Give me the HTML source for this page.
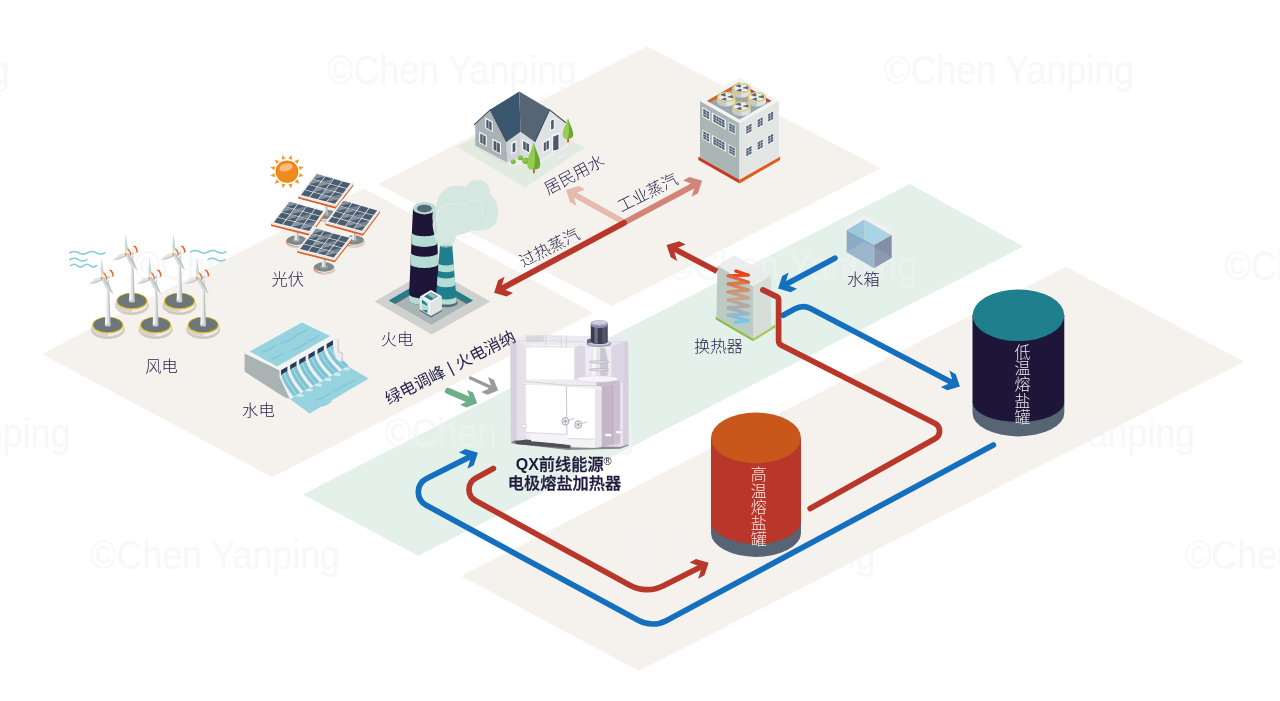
<!DOCTYPE html><html lang="zh"><head><meta charset="utf-8"><title>熔盐储能系统示意图</title><style>html,body{margin:0;padding:0;background:#fff}svg{display:block}text{font-family:'Liberation Sans','Noto Sans CJK SC',sans-serif}</style></head><body>
<svg width="1280" height="701" viewBox="0 0 1280 701">
<rect width="1280" height="701" fill="#fff"/>
<polygon points="378.1,184.2 647.2,46.2 880.8,168.3 612.1,306.0" fill="#f5f2ed" />
<polygon points="41.6,353.9 364.3,188.4 593.7,312.9 272.2,477.2" fill="#f5f2ed" />
<polygon points="302.7,494.4 909.6,184.0 1023.4,246.5 418.3,555.8" fill="#e4f1ea" />
<polygon points="461.1,576.0 1066.0,266.7 1244.1,361.7 639.0,671.0" fill="#f5f2ed" />
<g font-family="'DejaVu Sans','Liberation Sans',sans-serif" font-size="41" fill="#f3f3f3" opacity=".55">
<text x="-240.0" y="83.8" textLength="250" lengthAdjust="spacingAndGlyphs">©Chen Yanping</text>
<text x="327.0" y="83.8" textLength="250" lengthAdjust="spacingAndGlyphs">©Chen Yanping</text>
<text x="884.0" y="83.8" textLength="250" lengthAdjust="spacingAndGlyphs">©Chen Yanping</text>
<text x="134.0" y="279.6" textLength="250" lengthAdjust="spacingAndGlyphs">©Chen Yanping</text>
<text x="667.0" y="279.6" textLength="250" lengthAdjust="spacingAndGlyphs">©Chen Yanping</text>
<text x="1224.6" y="279.6" textLength="250" lengthAdjust="spacingAndGlyphs">©Chen Yanping</text>
<text x="-179.5" y="446.7" textLength="250" lengthAdjust="spacingAndGlyphs">©Chen Yanping</text>
<text x="385.0" y="446.7" textLength="250" lengthAdjust="spacingAndGlyphs">©Chen Yanping</text>
<text x="945.0" y="446.7" textLength="250" lengthAdjust="spacingAndGlyphs">©Chen Yanping</text>
<text x="90.0" y="569.0" textLength="250" lengthAdjust="spacingAndGlyphs">©Chen Yanping</text>
<text x="625.5" y="569.0" textLength="250" lengthAdjust="spacingAndGlyphs">©Chen Yanping</text>
<text x="1185.0" y="569.0" textLength="250" lengthAdjust="spacingAndGlyphs">©Chen Yanping</text>
</g>
<line x1="624.5" y1="222.5" x2="573.9" y2="194.2" stroke="#e6bbad" stroke-width="5.9" stroke-linecap="butt" />
<polygon points="566.0,189.8 578.6,186.1 585.0,189.5 576.7,192.8 573.9,197.4 576.5,205.8 570.1,202.2" fill="#e6bbad" />
<line x1="624.5" y1="222.5" x2="694.2" y2="185.1" stroke="#d28577" stroke-width="5.9" stroke-linecap="butt" />
<polygon points="702.1,180.8 689.5,177.1 683.1,180.5 691.5,183.8 694.2,188.4 691.6,196.8 698.0,193.2" fill="#d28577" />
<path d="M624.0,222.8 L502.0,288.4" stroke="#b8372a" stroke-width="5.9" stroke-linecap="round" fill="none"/>
<polygon points="494.1,292.7 506.7,296.4 513.0,293.0 504.7,289.7 501.9,285.1 504.6,276.7 498.2,280.3" fill="#b8372a" />
<path d="M448,390.9 L469.7,400.2" stroke="#6bae8a" stroke-width="6.2" stroke-linecap="round" fill="none"/>
<polygon points="477.1,403.3 473.1,392.5 467.0,389.9 469.5,396.7 465.0,402.5 460.2,404.7 466.4,407.6" fill="#6bae8a" />
<path d="M470.5,378 L490.8,387.2" stroke="#9b9b9b" stroke-width="3.4" stroke-linecap="round" fill="none"/>
<polygon points="498.1,390.6 493.9,379.9 488.0,377.1 490.7,384.8 487.8,389.2 481.1,391.9 487.4,394.8" fill="#9b9b9b" />
<path d="M70.0,252.8 q4.38,-2.60 8.75,0 t8.75,0 q4.38,-2.60 8.75,0 t8.75,0" fill="none" stroke="#86ccdb" stroke-width="1.6" stroke-linecap="round"/>
<path d="M69.8,259.6 q4.30,-2.60 8.60,0 t8.60,0" fill="none" stroke="#86ccdb" stroke-width="1.6" stroke-linecap="round"/>
<path d="M70.7,265.6 q3.24,-2.60 6.47,0 t6.47,0 q3.24,-2.60 6.47,0 t6.47,0" fill="none" stroke="#86ccdb" stroke-width="1.6" stroke-linecap="round"/>
<path d="M191.0,251.8 q4.38,-2.60 8.75,0 t8.75,0 q4.38,-2.60 8.75,0 t8.75,0" fill="none" stroke="#86ccdb" stroke-width="1.6" stroke-linecap="round"/>
<path d="M208.0,259.6 q4.25,-2.60 8.50,0 t8.50,0" fill="none" stroke="#86ccdb" stroke-width="1.6" stroke-linecap="round"/>
<ellipse cx="131.9" cy="305.6" rx="17.0" ry="9.4" fill="#8a7466" opacity=".33"/>
<path d="M116.3,301.2 v2.8 a15.6,8.4 0 0 0 31.2,0 v-2.8z" fill="#ececec"/>
<path d="M116.3,301.2 v2.8 a15.6,8.4 0 0 0 15.6,8.4 v-2.8z" fill="#d6d6d4"/>
<ellipse cx="131.9" cy="301.2" rx="15.6" ry="8.4" fill="#e3c02f" />
<ellipse cx="131.9" cy="300.8" rx="14.5" ry="7.5" fill="#6e7777" />
<polygon points="129.0,301.2 130.7,255.7 132.0,255.7 132.2,302.1" fill="#f6f7f7" />
<polygon points="132.2,302.1 132.0,255.7 133.1,255.7 134.8,301.2" fill="#b9c0c1" />
<polygon points="130.9,301.8 131.5,255.7 132.3,255.7 133.1,301.8" fill="#dfe3e3" />
<ellipse cx="131.9" cy="301.3" rx="2.9" ry="1.2" fill="#c9cfcf" />
<polygon points="125.3,254.1 124.5,246.4 125.7,234.0 127.4,246.4 127.8,253.9" fill="#d9dddd" />
<polygon points="125.7,234.0 127.4,246.4 127.8,253.9 126.7,254.0 126.3,246.4" fill="#c3c9c9" />
<polygon points="126.4,252.4 119.0,254.6 112.5,260.3 120.5,259.0 127.3,256.0" fill="#e3e6e6" />
<polygon points="112.5,260.3 120.5,259.0 127.3,256.0 126.7,254.8 120.0,257.2" fill="#c9cece" />
<g transform="rotate(-24 126.5 254.4)">
<rect x="128.7" y="249.5" width="7.4" height="7.6" fill="#f5f5f5"/>
<rect x="128.7" y="254.5" width="7.4" height="2.6" fill="#d2d5d5"/>
<ellipse cx="136.7" cy="253.3" rx="2.0" ry="3.8" fill="#df6529" />
<ellipse cx="135.2" cy="253.3" rx="1.9" ry="3.8" fill="#f4f4f4" />
<ellipse cx="129.4" cy="253.3" rx="1.9" ry="3.8" fill="#df6529" />
<ellipse cx="128.4" cy="253.3" rx="1.7" ry="3.7" fill="#e9e9e9" />
</g>
<polygon points="125.5,255.2 129.9,263.9 137.5,270.6 133.5,260.9 128.1,253.6" fill="#d6dada" />
<polygon points="137.5,270.6 133.5,260.9 128.1,253.6 127.1,254.3 131.9,262.4" fill="#bcc3c3" />
<ellipse cx="125.7" cy="254.2" rx="1.0" ry="1.5" fill="#e9a13a" />
<ellipse cx="179.5" cy="305.6" rx="17.0" ry="9.4" fill="#8a7466" opacity=".33"/>
<path d="M163.9,301.2 v2.8 a15.6,8.4 0 0 0 31.2,0 v-2.8z" fill="#ececec"/>
<path d="M163.9,301.2 v2.8 a15.6,8.4 0 0 0 15.6,8.4 v-2.8z" fill="#d6d6d4"/>
<ellipse cx="179.5" cy="301.2" rx="15.6" ry="8.4" fill="#e3c02f" />
<ellipse cx="179.5" cy="300.8" rx="14.5" ry="7.5" fill="#6e7777" />
<polygon points="176.6,301.2 178.3,255.7 179.6,255.7 179.8,302.1" fill="#f6f7f7" />
<polygon points="179.8,302.1 179.6,255.7 180.7,255.7 182.4,301.2" fill="#b9c0c1" />
<polygon points="178.5,301.8 179.1,255.7 179.9,255.7 180.7,301.8" fill="#dfe3e3" />
<ellipse cx="179.5" cy="301.3" rx="2.9" ry="1.2" fill="#c9cfcf" />
<polygon points="172.9,254.1 172.1,246.4 173.3,234.0 175.0,246.4 175.4,253.9" fill="#d9dddd" />
<polygon points="173.3,234.0 175.0,246.4 175.4,253.9 174.3,254.0 173.9,246.4" fill="#c3c9c9" />
<polygon points="174.0,252.4 166.6,254.6 160.1,260.3 168.1,259.0 174.9,256.0" fill="#e3e6e6" />
<polygon points="160.1,260.3 168.1,259.0 174.9,256.0 174.3,254.8 167.6,257.2" fill="#c9cece" />
<g transform="rotate(-24 174.1 254.4)">
<rect x="176.3" y="249.5" width="7.4" height="7.6" fill="#f5f5f5"/>
<rect x="176.3" y="254.5" width="7.4" height="2.6" fill="#d2d5d5"/>
<ellipse cx="184.3" cy="253.3" rx="2.0" ry="3.8" fill="#df6529" />
<ellipse cx="182.8" cy="253.3" rx="1.9" ry="3.8" fill="#f4f4f4" />
<ellipse cx="177.0" cy="253.3" rx="1.9" ry="3.8" fill="#df6529" />
<ellipse cx="176.0" cy="253.3" rx="1.7" ry="3.7" fill="#e9e9e9" />
</g>
<polygon points="173.1,255.2 177.5,263.9 185.1,270.6 181.1,260.9 175.7,253.6" fill="#d6dada" />
<polygon points="185.1,270.6 181.1,260.9 175.7,253.6 174.7,254.3 179.5,262.4" fill="#bcc3c3" />
<ellipse cx="173.3" cy="254.2" rx="1.0" ry="1.5" fill="#e9a13a" />
<ellipse cx="107.8" cy="329.6" rx="17.0" ry="9.4" fill="#8a7466" opacity=".33"/>
<path d="M92.2,325.2 v2.8 a15.6,8.4 0 0 0 31.2,0 v-2.8z" fill="#ececec"/>
<path d="M92.2,325.2 v2.8 a15.6,8.4 0 0 0 15.6,8.4 v-2.8z" fill="#d6d6d4"/>
<ellipse cx="107.8" cy="325.2" rx="15.6" ry="8.4" fill="#e3c02f" />
<ellipse cx="107.8" cy="324.8" rx="14.5" ry="7.5" fill="#6e7777" />
<polygon points="104.9,325.2 106.6,279.7 107.9,279.7 108.1,326.1" fill="#f6f7f7" />
<polygon points="108.1,326.1 107.9,279.7 109.0,279.7 110.7,325.2" fill="#b9c0c1" />
<polygon points="106.8,325.8 107.4,279.7 108.2,279.7 109.0,325.8" fill="#dfe3e3" />
<ellipse cx="107.8" cy="325.3" rx="2.9" ry="1.2" fill="#c9cfcf" />
<polygon points="101.2,278.1 100.4,270.4 101.6,258.0 103.3,270.4 103.7,277.9" fill="#d9dddd" />
<polygon points="101.6,258.0 103.3,270.4 103.7,277.9 102.6,278.0 102.2,270.4" fill="#c3c9c9" />
<polygon points="102.3,276.4 94.9,278.6 88.4,284.3 96.4,283.0 103.2,280.0" fill="#e3e6e6" />
<polygon points="88.4,284.3 96.4,283.0 103.2,280.0 102.6,278.8 95.9,281.2" fill="#c9cece" />
<g transform="rotate(-24 102.4 278.4)">
<rect x="104.6" y="273.5" width="7.4" height="7.6" fill="#f5f5f5"/>
<rect x="104.6" y="278.5" width="7.4" height="2.6" fill="#d2d5d5"/>
<ellipse cx="112.6" cy="277.3" rx="2.0" ry="3.8" fill="#df6529" />
<ellipse cx="111.1" cy="277.3" rx="1.9" ry="3.8" fill="#f4f4f4" />
<ellipse cx="105.3" cy="277.3" rx="1.9" ry="3.8" fill="#df6529" />
<ellipse cx="104.3" cy="277.3" rx="1.7" ry="3.7" fill="#e9e9e9" />
</g>
<polygon points="101.4,279.2 105.8,287.9 113.4,294.6 109.4,284.9 104.0,277.6" fill="#d6dada" />
<polygon points="113.4,294.6 109.4,284.9 104.0,277.6 103.0,278.3 107.8,286.4" fill="#bcc3c3" />
<ellipse cx="101.6" cy="278.2" rx="1.0" ry="1.5" fill="#e9a13a" />
<ellipse cx="155.6" cy="329.6" rx="17.0" ry="9.4" fill="#8a7466" opacity=".33"/>
<path d="M140.0,325.2 v2.8 a15.6,8.4 0 0 0 31.2,0 v-2.8z" fill="#ececec"/>
<path d="M140.0,325.2 v2.8 a15.6,8.4 0 0 0 15.6,8.4 v-2.8z" fill="#d6d6d4"/>
<ellipse cx="155.6" cy="325.2" rx="15.6" ry="8.4" fill="#e3c02f" />
<ellipse cx="155.6" cy="324.8" rx="14.5" ry="7.5" fill="#6e7777" />
<polygon points="152.7,325.2 154.4,279.7 155.7,279.7 155.9,326.1" fill="#f6f7f7" />
<polygon points="155.9,326.1 155.7,279.7 156.8,279.7 158.5,325.2" fill="#b9c0c1" />
<polygon points="154.6,325.8 155.2,279.7 156.0,279.7 156.8,325.8" fill="#dfe3e3" />
<ellipse cx="155.6" cy="325.3" rx="2.9" ry="1.2" fill="#c9cfcf" />
<polygon points="149.0,278.1 148.2,270.4 149.4,258.0 151.1,270.4 151.5,277.9" fill="#d9dddd" />
<polygon points="149.4,258.0 151.1,270.4 151.5,277.9 150.4,278.0 150.0,270.4" fill="#c3c9c9" />
<polygon points="150.1,276.4 142.7,278.6 136.2,284.3 144.2,283.0 151.0,280.0" fill="#e3e6e6" />
<polygon points="136.2,284.3 144.2,283.0 151.0,280.0 150.4,278.8 143.7,281.2" fill="#c9cece" />
<g transform="rotate(-24 150.2 278.4)">
<rect x="152.4" y="273.5" width="7.4" height="7.6" fill="#f5f5f5"/>
<rect x="152.4" y="278.5" width="7.4" height="2.6" fill="#d2d5d5"/>
<ellipse cx="160.4" cy="277.3" rx="2.0" ry="3.8" fill="#df6529" />
<ellipse cx="158.9" cy="277.3" rx="1.9" ry="3.8" fill="#f4f4f4" />
<ellipse cx="153.1" cy="277.3" rx="1.9" ry="3.8" fill="#df6529" />
<ellipse cx="152.1" cy="277.3" rx="1.7" ry="3.7" fill="#e9e9e9" />
</g>
<polygon points="149.2,279.2 153.6,287.9 161.2,294.6 157.2,284.9 151.8,277.6" fill="#d6dada" />
<polygon points="161.2,294.6 157.2,284.9 151.8,277.6 150.8,278.3 155.6,286.4" fill="#bcc3c3" />
<ellipse cx="149.4" cy="278.2" rx="1.0" ry="1.5" fill="#e9a13a" />
<ellipse cx="203.2" cy="329.6" rx="17.0" ry="9.4" fill="#8a7466" opacity=".33"/>
<path d="M187.6,325.2 v2.8 a15.6,8.4 0 0 0 31.2,0 v-2.8z" fill="#ececec"/>
<path d="M187.6,325.2 v2.8 a15.6,8.4 0 0 0 15.6,8.4 v-2.8z" fill="#d6d6d4"/>
<ellipse cx="203.2" cy="325.2" rx="15.6" ry="8.4" fill="#e3c02f" />
<ellipse cx="203.2" cy="324.8" rx="14.5" ry="7.5" fill="#6e7777" />
<polygon points="200.3,325.2 202.0,279.7 203.3,279.7 203.5,326.1" fill="#f6f7f7" />
<polygon points="203.5,326.1 203.3,279.7 204.4,279.7 206.1,325.2" fill="#b9c0c1" />
<polygon points="202.2,325.8 202.8,279.7 203.6,279.7 204.4,325.8" fill="#dfe3e3" />
<ellipse cx="203.2" cy="325.3" rx="2.9" ry="1.2" fill="#c9cfcf" />
<polygon points="196.6,278.1 195.8,270.4 197.0,258.0 198.7,270.4 199.1,277.9" fill="#d9dddd" />
<polygon points="197.0,258.0 198.7,270.4 199.1,277.9 198.0,278.0 197.6,270.4" fill="#c3c9c9" />
<polygon points="197.7,276.4 190.3,278.6 183.8,284.3 191.8,283.0 198.6,280.0" fill="#e3e6e6" />
<polygon points="183.8,284.3 191.8,283.0 198.6,280.0 198.0,278.8 191.3,281.2" fill="#c9cece" />
<g transform="rotate(-24 197.8 278.4)">
<rect x="200.0" y="273.5" width="7.4" height="7.6" fill="#f5f5f5"/>
<rect x="200.0" y="278.5" width="7.4" height="2.6" fill="#d2d5d5"/>
<ellipse cx="208.0" cy="277.3" rx="2.0" ry="3.8" fill="#df6529" />
<ellipse cx="206.5" cy="277.3" rx="1.9" ry="3.8" fill="#f4f4f4" />
<ellipse cx="200.7" cy="277.3" rx="1.9" ry="3.8" fill="#df6529" />
<ellipse cx="199.7" cy="277.3" rx="1.7" ry="3.7" fill="#e9e9e9" />
</g>
<polygon points="196.8,279.2 201.2,287.9 208.8,294.6 204.8,284.9 199.4,277.6" fill="#d6dada" />
<polygon points="208.8,294.6 204.8,284.9 199.4,277.6 198.4,278.3 203.2,286.4" fill="#bcc3c3" />
<ellipse cx="197.0" cy="278.2" rx="1.0" ry="1.5" fill="#e9a13a" />
<polygon points="299.8,172.9 303.7,176.0 298.8,176.9" fill="#f19a2c" />
<polygon points="297.5,179.1 299.3,183.8 294.6,182.0" fill="#f19a2c" />
<polygon points="292.3,183.4 291.5,188.3 288.3,184.4" fill="#f19a2c" />
<polygon points="285.7,184.4 282.6,188.3 281.7,183.4" fill="#f19a2c" />
<polygon points="279.5,182.1 274.8,183.9 276.6,179.2" fill="#f19a2c" />
<polygon points="275.2,176.9 270.3,176.1 274.2,172.9" fill="#f19a2c" />
<polygon points="274.2,170.3 270.3,167.2 275.2,166.3" fill="#f19a2c" />
<polygon points="276.5,164.1 274.7,159.4 279.4,161.2" fill="#f19a2c" />
<polygon points="281.7,159.8 282.5,154.9 285.7,158.8" fill="#f19a2c" />
<polygon points="288.3,158.8 291.4,154.9 292.3,159.8" fill="#f19a2c" />
<polygon points="294.5,161.1 299.2,159.3 297.4,164.0" fill="#f19a2c" />
<polygon points="298.8,166.3 303.7,167.1 299.8,170.3" fill="#f19a2c" />
<ellipse cx="287.0" cy="171.6" rx="11.4" ry="11.2" fill="#ee8418" />
<ellipse cx="287.4" cy="172.8" rx="10.6" ry="9.8" fill="#f08a1d" />
<ellipse cx="286.0" cy="167.4" rx="6.8" ry="3.8" fill="#f8bd7e" transform="rotate(-15 286.0 167.4)"/>
<ellipse cx="325.9" cy="216.8" rx="11.0" ry="5.6" fill="#b9a79b" opacity=".45"/>
<ellipse cx="325.4" cy="215.5" rx="10.2" ry="5.0" fill="#d9652a" />
<ellipse cx="326.0" cy="215.7" rx="9.8" ry="4.6" fill="#e9e9e8" />
<ellipse cx="325.7" cy="214.4" rx="10.0" ry="4.7" fill="#7f898a" />
<ellipse cx="325.7" cy="214.2" rx="4.2" ry="1.9" fill="#98a1a2" />
<rect x="323.5" y="189.0" width="4" height="25.4" fill="#e6e9e9"/>
<rect x="326.0" y="189.0" width="1.5" height="25.4" fill="#b1b8b8"/>
<polygon points="298.3,195.6 335.9,205.5 353.2,183.0 353.2,186.0 335.9,208.7 298.3,198.6" fill="#d9622a" />
<polygon points="298.3,195.6 335.9,205.5 353.2,183.0 353.2,184.2 335.9,206.8 298.3,196.8" fill="#f1f1f1" />
<polygon points="316.0,172.5 353.2,183.0 335.9,205.5 298.3,195.6" fill="#f1f2f3" />
<polygon points="316.9,174.2 324.8,176.4 321.1,181.1 313.3,179.0" fill="#4a5d70" />
<polygon points="316.9,174.2 324.8,176.4 313.3,179.0" fill="#8a929d" />
<polygon points="312.9,179.5 320.7,181.7 317.1,186.4 309.2,184.3" fill="#4a5d70" />
<polygon points="312.9,179.5 320.7,181.7 309.2,184.3" fill="#8a929d" />
<polygon points="308.8,184.8 316.7,187.0 313.0,191.7 305.2,189.6" fill="#4a5d70" />
<polygon points="304.7,190.1 312.6,192.3 309.0,197.0 301.1,194.9" fill="#4a5d70" />
<polygon points="325.5,176.6 333.3,178.8 329.7,183.5 321.9,181.4" fill="#4a5d70" />
<polygon points="329.7,183.5 333.3,178.8 321.9,181.4" fill="#78838f" />
<polygon points="321.5,181.9 329.3,184.1 325.7,188.8 317.8,186.6" fill="#4a5d70" />
<polygon points="321.5,181.9 329.3,184.1 317.8,186.6" fill="#8a929d" />
<polygon points="317.4,187.2 325.3,189.3 321.7,194.0 313.8,191.9" fill="#4a5d70" />
<polygon points="317.4,187.2 325.3,189.3 313.8,191.9" fill="#8a929d" />
<polygon points="313.4,192.5 321.2,194.6 317.6,199.3 309.7,197.2" fill="#4a5d70" />
<polygon points="334.1,179.0 341.9,181.2 338.3,185.9 330.5,183.7" fill="#4a5d70" />
<polygon points="330.0,184.3 337.9,186.5 334.3,191.1 326.4,189.0" fill="#4a5d70" />
<polygon points="334.3,191.1 337.9,186.5 326.4,189.0" fill="#78838f" />
<polygon points="326.0,189.5 333.9,191.7 330.3,196.3 322.4,194.2" fill="#4a5d70" />
<polygon points="326.0,189.5 333.9,191.7 322.4,194.2" fill="#8a929d" />
<polygon points="322.0,194.8 329.9,196.9 326.3,201.5 318.4,199.5" fill="#4a5d70" />
<polygon points="322.0,194.8 329.9,196.9 318.4,199.5" fill="#8a929d" />
<polygon points="342.6,181.4 350.4,183.6 346.9,188.3 339.0,186.1" fill="#4a5d70" />
<polygon points="338.6,186.7 346.5,188.8 342.9,193.5 335.0,191.3" fill="#4a5d70" />
<polygon points="334.6,191.9 342.5,194.0 338.9,198.7 331.0,196.5" fill="#4a5d70" />
<polygon points="338.9,198.7 342.5,194.0 331.0,196.5" fill="#78838f" />
<polygon points="330.6,197.1 338.5,199.2 334.9,203.8 327.0,201.7" fill="#4a5d70" />
<polygon points="330.6,197.1 338.5,199.2 327.0,201.7" fill="#8a929d" />
<ellipse cx="296.9" cy="242.7" rx="11.0" ry="5.6" fill="#b9a79b" opacity=".45"/>
<ellipse cx="296.4" cy="241.4" rx="10.2" ry="5.0" fill="#d9652a" />
<ellipse cx="297.0" cy="241.6" rx="9.8" ry="4.6" fill="#e9e9e8" />
<ellipse cx="296.7" cy="240.3" rx="10.0" ry="4.7" fill="#7f898a" />
<ellipse cx="296.7" cy="240.1" rx="4.2" ry="1.9" fill="#98a1a2" />
<rect x="294.5" y="216.6" width="4" height="23.8" fill="#e6e9e9"/>
<rect x="297.0" y="216.6" width="1.5" height="23.8" fill="#b1b8b8"/>
<polygon points="271.0,223.0 310.5,232.8 325.9,210.5 325.9,213.5 310.5,236.0 271.0,226.0" fill="#d9622a" />
<polygon points="271.0,223.0 310.5,232.8 325.9,210.5 325.9,211.7 310.5,234.1 271.0,224.2" fill="#f1f1f1" />
<polygon points="288.5,200.3 325.9,210.5 310.5,232.8 271.0,223.0" fill="#f1f2f3" />
<polygon points="289.5,202.0 297.3,204.1 293.8,208.8 285.9,206.7" fill="#4a5d70" />
<polygon points="289.5,202.0 297.3,204.1 285.9,206.7" fill="#8a929d" />
<polygon points="285.5,207.2 293.4,209.3 290.0,214.0 281.9,211.9" fill="#4a5d70" />
<polygon points="285.5,207.2 293.4,209.3 281.9,211.9" fill="#8a929d" />
<polygon points="281.5,212.4 289.5,214.5 286.1,219.2 277.9,217.1" fill="#4a5d70" />
<polygon points="277.5,217.6 285.6,219.7 282.2,224.4 273.9,222.3" fill="#4a5d70" />
<polygon points="298.1,204.3 306.0,206.5 302.6,211.1 294.6,209.0" fill="#4a5d70" />
<polygon points="302.6,211.1 306.0,206.5 294.6,209.0" fill="#78838f" />
<polygon points="294.2,209.5 302.2,211.6 298.8,216.3 290.7,214.2" fill="#4a5d70" />
<polygon points="294.2,209.5 302.2,211.6 290.7,214.2" fill="#8a929d" />
<polygon points="290.3,214.7 298.4,216.8 295.0,221.5 286.8,219.4" fill="#4a5d70" />
<polygon points="290.3,214.7 298.4,216.8 286.8,219.4" fill="#8a929d" />
<polygon points="286.4,219.9 294.6,222.0 291.2,226.6 282.9,224.6" fill="#4a5d70" />
<polygon points="306.7,206.7 314.6,208.8 311.3,213.4 303.3,211.3" fill="#4a5d70" />
<polygon points="302.9,211.8 310.9,214.0 307.6,218.6 299.6,216.5" fill="#4a5d70" />
<polygon points="307.6,218.6 310.9,214.0 299.6,216.5" fill="#78838f" />
<polygon points="299.2,217.0 307.2,219.1 303.9,223.7 295.8,221.7" fill="#4a5d70" />
<polygon points="299.2,217.0 307.2,219.1 295.8,221.7" fill="#8a929d" />
<polygon points="295.4,222.2 303.6,224.3 300.3,228.9 292.0,226.8" fill="#4a5d70" />
<polygon points="295.4,222.2 303.6,224.3 292.0,226.8" fill="#8a929d" />
<polygon points="315.3,209.0 323.2,211.2 320.0,215.7 312.1,213.6" fill="#4a5d70" />
<polygon points="311.7,214.2 319.7,216.3 316.5,220.9 308.4,218.8" fill="#4a5d70" />
<polygon points="308.0,219.3 316.1,221.4 312.9,226.0 304.7,223.9" fill="#4a5d70" />
<polygon points="312.9,226.0 316.1,221.4 304.7,223.9" fill="#78838f" />
<polygon points="304.3,224.5 312.5,226.6 309.3,231.1 301.1,229.1" fill="#4a5d70" />
<polygon points="304.3,224.5 312.5,226.6 301.1,229.1" fill="#8a929d" />
<ellipse cx="354.1" cy="242.4" rx="11.0" ry="5.6" fill="#b9a79b" opacity=".45"/>
<ellipse cx="353.6" cy="241.1" rx="10.2" ry="5.0" fill="#d9652a" />
<ellipse cx="354.2" cy="241.3" rx="9.8" ry="4.6" fill="#e9e9e8" />
<ellipse cx="353.9" cy="240.0" rx="10.0" ry="4.7" fill="#7f898a" />
<ellipse cx="353.9" cy="239.8" rx="4.2" ry="1.9" fill="#98a1a2" />
<rect x="351.7" y="215.8" width="4" height="24.2" fill="#e6e9e9"/>
<rect x="354.2" y="215.8" width="1.5" height="24.2" fill="#b1b8b8"/>
<polygon points="325.4,222.3 363.0,232.5 380.0,209.7 380.0,212.7 363.0,235.7 325.4,225.3" fill="#d9622a" />
<polygon points="325.4,222.3 363.0,232.5 380.0,209.7 380.0,210.9 363.0,233.8 325.4,223.5" fill="#f1f1f1" />
<polygon points="342.6,199.2 380.0,209.7 363.0,232.5 325.4,222.3" fill="#f1f2f3" />
<polygon points="343.6,200.9 351.4,203.1 347.9,207.9 340.0,205.7" fill="#4a5d70" />
<polygon points="343.6,200.9 351.4,203.1 340.0,205.7" fill="#8a929d" />
<polygon points="339.6,206.2 347.5,208.4 344.0,213.2 336.1,211.0" fill="#4a5d70" />
<polygon points="339.6,206.2 347.5,208.4 336.1,211.0" fill="#8a929d" />
<polygon points="335.7,211.5 343.5,213.7 340.0,218.5 332.1,216.3" fill="#4a5d70" />
<polygon points="331.7,216.9 339.6,219.0 336.1,223.8 328.2,221.6" fill="#4a5d70" />
<polygon points="352.2,203.3 360.0,205.5 356.5,210.3 348.6,208.1" fill="#4a5d70" />
<polygon points="356.5,210.3 360.0,205.5 348.6,208.1" fill="#78838f" />
<polygon points="348.2,208.6 356.1,210.8 352.6,215.5 344.7,213.4" fill="#4a5d70" />
<polygon points="348.2,208.6 356.1,210.8 344.7,213.4" fill="#8a929d" />
<polygon points="344.3,213.9 352.2,216.1 348.6,220.8 340.8,218.7" fill="#4a5d70" />
<polygon points="344.3,213.9 352.2,216.1 340.8,218.7" fill="#8a929d" />
<polygon points="340.4,219.2 348.2,221.4 344.7,226.1 336.8,224.0" fill="#4a5d70" />
<polygon points="360.8,205.7 368.6,207.9 365.1,212.7 357.3,210.5" fill="#4a5d70" />
<polygon points="356.9,211.0 364.7,213.2 361.2,217.9 353.3,215.8" fill="#4a5d70" />
<polygon points="361.2,217.9 364.7,213.2 353.3,215.8" fill="#78838f" />
<polygon points="352.9,216.3 360.8,218.5 357.3,223.2 349.4,221.0" fill="#4a5d70" />
<polygon points="352.9,216.3 360.8,218.5 349.4,221.0" fill="#8a929d" />
<polygon points="349.0,221.6 356.9,223.7 353.4,228.5 345.5,226.3" fill="#4a5d70" />
<polygon points="349.0,221.6 356.9,223.7 345.5,226.3" fill="#8a929d" />
<polygon points="369.4,208.2 377.2,210.4 373.7,215.1 365.9,212.9" fill="#4a5d70" />
<polygon points="365.5,213.4 373.3,215.6 369.8,220.3 362.0,218.1" fill="#4a5d70" />
<polygon points="361.5,218.7 369.4,220.9 365.9,225.6 358.0,223.4" fill="#4a5d70" />
<polygon points="365.9,225.6 369.4,220.9 358.0,223.4" fill="#78838f" />
<polygon points="357.6,223.9 365.5,226.1 362.0,230.8 354.1,228.7" fill="#4a5d70" />
<polygon points="357.6,223.9 365.5,226.1 354.1,228.7" fill="#8a929d" />
<ellipse cx="324.3" cy="269.4" rx="11.0" ry="5.6" fill="#b9a79b" opacity=".45"/>
<ellipse cx="323.8" cy="268.1" rx="10.2" ry="5.0" fill="#d9652a" />
<ellipse cx="324.4" cy="268.3" rx="9.8" ry="4.6" fill="#e9e9e8" />
<ellipse cx="324.1" cy="267.0" rx="10.0" ry="4.7" fill="#7f898a" />
<ellipse cx="324.1" cy="266.8" rx="4.2" ry="1.9" fill="#98a1a2" />
<rect x="321.9" y="243.1" width="4" height="23.9" fill="#e6e9e9"/>
<rect x="324.4" y="243.1" width="1.5" height="23.9" fill="#b1b8b8"/>
<polygon points="297.2,249.7 334.8,259.1 352.1,237.2 352.1,240.2 334.8,262.3 297.2,252.7" fill="#d9622a" />
<polygon points="297.2,249.7 334.8,259.1 352.1,237.2 352.1,238.4 334.8,260.4 297.2,250.9" fill="#f1f1f1" />
<polygon points="315.2,227.0 352.1,237.2 334.8,259.1 297.2,249.7" fill="#f1f2f3" />
<polygon points="316.1,228.7 323.9,230.8 320.2,235.5 312.4,233.4" fill="#4a5d70" />
<polygon points="316.1,228.7 323.9,230.8 312.4,233.4" fill="#8a929d" />
<polygon points="312.0,233.9 319.8,236.0 316.1,240.6 308.3,238.6" fill="#4a5d70" />
<polygon points="312.0,233.9 319.8,236.0 308.3,238.6" fill="#8a929d" />
<polygon points="307.8,239.1 315.7,241.2 312.0,245.8 304.1,243.8" fill="#4a5d70" />
<polygon points="303.7,244.3 311.6,246.3 307.9,251.0 300.0,249.0" fill="#4a5d70" />
<polygon points="324.6,231.0 332.4,233.2 328.7,237.8 320.9,235.7" fill="#4a5d70" />
<polygon points="328.7,237.8 332.4,233.2 320.9,235.7" fill="#78838f" />
<polygon points="320.5,236.2 328.3,238.3 324.7,242.9 316.8,240.8" fill="#4a5d70" />
<polygon points="320.5,236.2 328.3,238.3 316.8,240.8" fill="#8a929d" />
<polygon points="316.4,241.4 324.2,243.4 320.6,248.0 312.7,246.0" fill="#4a5d70" />
<polygon points="316.4,241.4 324.2,243.4 312.7,246.0" fill="#8a929d" />
<polygon points="312.3,246.5 320.2,248.6 316.5,253.1 308.7,251.2" fill="#4a5d70" />
<polygon points="333.1,233.4 340.9,235.5 337.3,240.1 329.5,238.0" fill="#4a5d70" />
<polygon points="329.0,238.5 336.8,240.6 333.2,245.1 325.4,243.1" fill="#4a5d70" />
<polygon points="333.2,245.1 336.8,240.6 325.4,243.1" fill="#78838f" />
<polygon points="325.0,243.6 332.8,245.7 329.2,250.2 321.4,248.2" fill="#4a5d70" />
<polygon points="325.0,243.6 332.8,245.7 321.4,248.2" fill="#8a929d" />
<polygon points="320.9,248.7 328.8,250.8 325.2,255.3 317.3,253.3" fill="#4a5d70" />
<polygon points="320.9,248.7 328.8,250.8 317.3,253.3" fill="#8a929d" />
<polygon points="341.6,235.7 349.4,237.8 345.8,242.4 338.0,240.3" fill="#4a5d70" />
<polygon points="337.6,240.8 345.4,242.9 341.8,247.4 334.0,245.3" fill="#4a5d70" />
<polygon points="333.6,245.9 341.4,247.9 337.8,252.4 330.0,250.4" fill="#4a5d70" />
<polygon points="337.8,252.4 341.4,247.9 330.0,250.4" fill="#78838f" />
<polygon points="329.5,251.0 337.4,253.0 333.8,257.5 325.9,255.5" fill="#4a5d70" />
<polygon points="329.5,251.0 337.4,253.0 325.9,255.5" fill="#8a929d" />
<polygon points="290.0,399.0 348.2,366.5 368.7,378.5 309.6,413.6" fill="#97d3de" />
<polygon points="244.6,352.0 279.7,369.0 279.7,377.0 290.0,399.0 284.0,397.0 244.6,371.6" fill="#a9b3b3" />
<polygon points="279.7,369.0 334.5,338.0 337.0,345.0 348.2,366.5 290.0,399.0 279.7,377.0" fill="#eef0f0" />
<polygon points="244.6,352.0 301.9,319.4 334.5,336.0 334.5,339.0 279.7,370.5 244.6,353.5" fill="#f2f3f3" />
<polygon points="249.7,351.4 301.9,322.5 330.2,336.0 277.1,366.5" fill="#97d3de" />
<polygon points="281.0,370.3 287.4,366.6 287.4,371.6 281.0,375.3" fill="#2b3b56" />
<path d="M281.0,374.8 L287.4,371.1 Q289.9,380.6 300.3,392.8 L293.5,396.6 Q283.5,384.3 281.0,374.8 Z" fill="#7fc4d5"/>
<path d="M284.2,373.4 Q286.7,382.4 296.9,394.7" stroke="#b5e0ea" stroke-width="1" fill="none"/>
<polygon points="290.1,365.0 296.5,361.3 296.5,366.3 290.1,370.0" fill="#2b3b56" />
<path d="M290.1,369.5 L296.5,365.8 Q299.0,375.3 310.0,387.4 L303.2,391.2 Q292.6,379.0 290.1,369.5 Z" fill="#7fc4d5"/>
<path d="M293.3,368.2 Q295.8,377.2 306.6,389.3" stroke="#b5e0ea" stroke-width="1" fill="none"/>
<polygon points="299.2,359.8 305.6,356.1 305.6,361.1 299.2,364.8" fill="#2b3b56" />
<path d="M299.2,364.3 L305.6,360.6 Q308.1,370.1 319.7,382.0 L312.9,385.8 Q301.7,373.8 299.2,364.3 Z" fill="#7fc4d5"/>
<path d="M302.4,362.9 Q304.9,371.9 316.3,383.9" stroke="#b5e0ea" stroke-width="1" fill="none"/>
<polygon points="308.4,354.5 314.8,350.8 314.8,355.8 308.4,359.5" fill="#2b3b56" />
<path d="M308.4,359.0 L314.8,355.3 Q317.3,364.8 329.4,376.6 L322.6,380.3 Q310.9,368.5 308.4,359.0 Z" fill="#7fc4d5"/>
<path d="M311.6,357.7 Q314.1,366.7 326.0,378.4" stroke="#b5e0ea" stroke-width="1" fill="none"/>
<polygon points="317.5,349.3 323.9,345.6 323.9,350.6 317.5,354.3" fill="#2b3b56" />
<path d="M317.5,353.8 L323.9,350.1 Q326.4,359.6 339.1,371.1 L332.3,374.9 Q320.0,363.3 317.5,353.8 Z" fill="#7fc4d5"/>
<path d="M320.7,352.4 Q323.2,361.4 335.7,373.0" stroke="#b5e0ea" stroke-width="1" fill="none"/>
<polygon points="326.6,344.0 333.0,340.3 333.0,345.3 326.6,349.0" fill="#2b3b56" />
<path d="M326.6,348.5 L333.0,344.8 Q335.5,354.3 348.8,365.7 L342.0,369.5 Q329.1,358.0 326.6,348.5 Z" fill="#7fc4d5"/>
<path d="M329.8,347.2 Q332.3,356.2 345.4,367.6" stroke="#b5e0ea" stroke-width="1" fill="none"/>
<polygon points="333.5,337.5 337.5,339.5 337.5,352.0 341.5,354.0 341.5,362.0 337.0,359.5 333.5,352.0" fill="#eef0f0" />
<polygon points="337.5,339.5 337.5,352.0 341.5,354.0 341.5,362.0 343.0,361.0 343.0,353.0 339.0,351.0 339.0,338.8" fill="#cdd3d3" />
<ellipse cx="300.2" cy="395.4" rx="3.4" ry="1.5" fill="#d9f0f5" opacity=".8"/>
<ellipse cx="309.5" cy="390.1" rx="3.4" ry="1.5" fill="#d9f0f5" opacity=".8"/>
<ellipse cx="318.8" cy="384.9" rx="3.4" ry="1.5" fill="#d9f0f5" opacity=".8"/>
<ellipse cx="328.2" cy="379.6" rx="3.4" ry="1.5" fill="#d9f0f5" opacity=".8"/>
<ellipse cx="337.5" cy="374.4" rx="3.4" ry="1.5" fill="#d9f0f5" opacity=".8"/>
<ellipse cx="346.8" cy="369.1" rx="3.4" ry="1.5" fill="#d9f0f5" opacity=".8"/>
<path d="M262.0,352.0 q7.0,-1.4 14.0,-7.0" stroke="#7ec5d4" stroke-width="1.1" fill="none" stroke-linecap="round"/>
<path d="M280.0,343.5 q8.0,-1.6 16.0,-8.0" stroke="#7ec5d4" stroke-width="1.1" fill="none" stroke-linecap="round"/>
<path d="M296.0,335.0 q6.0,-1.2 12.0,-6.0" stroke="#7ec5d4" stroke-width="1.1" fill="none" stroke-linecap="round"/>
<path d="M272.0,359.0 q5.5,-1.1 11.0,-5.5" stroke="#7ec5d4" stroke-width="1.1" fill="none" stroke-linecap="round"/>
<path d="M292.0,350.0 q7.0,-1.4 14.0,-7.0" stroke="#7ec5d4" stroke-width="1.1" fill="none" stroke-linecap="round"/>
<path d="M308.0,341.0 q5.5,-1.1 11.0,-5.5" stroke="#7ec5d4" stroke-width="1.1" fill="none" stroke-linecap="round"/>
<path d="M316.0,400.0 q7.0,-1.4 14.0,-7.0" stroke="#7ec5d4" stroke-width="1.1" fill="none" stroke-linecap="round"/>
<path d="M333.0,391.0 q6.5,-1.3 13.0,-6.5" stroke="#7ec5d4" stroke-width="1.1" fill="none" stroke-linecap="round"/>
<path d="M322.0,406.0 q4.5,-0.9 9.0,-4.5" stroke="#7ec5d4" stroke-width="1.1" fill="none" stroke-linecap="round"/>
<path d="M347.0,384.0 q4.5,-0.9 9.0,-4.5" stroke="#7ec5d4" stroke-width="1.1" fill="none" stroke-linecap="round"/>
<polygon points="374.5,301.4 431.9,268.4 490.3,301.4 431.9,334.4" fill="#d0d0cf" />
<polygon points="389.0,300.5 430.9,276.2 472.8,300.5 431.4,324.7" fill="#a9b5b5" />
<polygon points="389.0,300.5 430.9,276.2 472.8,300.5 466.6,303.9 430.9,283.3 395.2,303.9" fill="#5a6776" />
<polygon points="389.0,300.5 430.9,276.2 472.8,300.5 468.3,302.9 430.9,281.3 393.5,302.9" fill="#1f7f8c" />
<path d="M413.0,208.3 L408.8,300.5 A15.6,4.7 0 0 0 440.0,300.5 L435.8,208.3 A11.4,3.4 0 0 1 413.0,208.3 Z" fill="#1e1638"/>
<path d="M411.9,232.5 L411.4,243.0 A13.0,3.9 0 0 0 437.4,243.0 L436.9,232.5 A12.5,3.8 0 0 1 411.9,232.5 Z" fill="#b4dcd4"/>
<path d="M411.0,252.7 L410.5,263.9 A13.9,4.2 0 0 0 438.3,263.9 L437.8,252.7 A13.4,4.0 0 0 1 411.0,252.7 Z" fill="#b4dcd4"/>
<path d="M409.1,294.0 L408.8,300.5 A15.6,4.7 0 0 0 440.0,300.5 L439.7,294.0 A15.3,4.6 0 0 1 409.1,294.0 Z" fill="#b4dcd4"/>
<ellipse cx="424.4" cy="208.3" rx="11.4" ry="6.1" fill="#b4dcd4" />
<ellipse cx="424.4" cy="208.6" rx="7.5" ry="3.9" fill="#5a6776" />
<ellipse cx="446.6" cy="303.0" rx="11.2" ry="4.2" fill="#5a6776" />
<path d="M440.0,244.9 L435.6,301.5 A10.5,3.1 0 0 0 456.6,301.5 L452.2,244.9 A6.1,1.8 0 0 1 440.0,244.9 Z" fill="#1f7f8c"/>
<path d="M438.6,263.2 L438.1,269.9 A8.0,2.4 0 0 0 454.1,269.9 L453.6,263.2 A7.5,2.3 0 0 1 438.6,263.2 Z" fill="#b4dcd4"/>
<path d="M437.6,275.9 L436.9,284.4 A9.2,2.8 0 0 0 455.3,284.4 L454.6,275.9 A8.5,2.6 0 0 1 437.6,275.9 Z" fill="#b4dcd4"/>
<path d="M436.0,296.5 L435.6,301.5 A10.5,3.1 0 0 0 456.6,301.5 L456.2,296.5 A10.1,3.0 0 0 1 436.0,296.5 Z" fill="#b4dcd4"/>
<ellipse cx="446.1" cy="244.9" rx="6.1" ry="2.5" fill="#b4dcd4" />
<ellipse cx="446.1" cy="245.2" rx="4.0" ry="1.6" fill="#5a6776" />
<polygon points="419.7,309.4 431.1,316.1 442.1,309.9 442.1,311.1 431.1,317.5 419.7,310.7" fill="#5a6776" />
<polygon points="430.9,290.0 419.9,296.5 431.1,302.9 441.9,296.3" fill="#f4f5f5" />
<polygon points="430.9,292.2 423.9,296.4 431.1,300.6 438.1,296.3" fill="#1f7f8c" />
<polygon points="427.4,294.5 431.1,292.4 437.1,296.2 433.3,298.4" fill="#a9b5b5" />
<polygon points="419.9,296.5 431.1,302.9 431.1,315.7 419.9,309.4" fill="#e9eded" />
<polygon points="431.1,302.9 441.9,296.3 441.9,309.6 431.1,315.7" fill="#e2e3e3" />
<polygon points="421.9,299.8 427.4,302.9 427.4,313.1 421.9,309.9" fill="#1f7f8c" />
<polygon points="421.9,302.9 427.4,306.1 427.4,309.9 421.9,309.9" fill="#b4dcd4" />
<polygon points="423.9,300.9 427.4,302.9 427.4,304.4" fill="#b4dcd4" />
<path d="M438,243.8 C435.5,240 434.3,236 434.1,231.6 C432.5,228 432.3,224.5 432.8,221.4 C431.5,214 433.5,208.5 436.7,204.7 C437.5,197 441,192 445.7,189.3 C449.5,186 454,185.6 458.5,186 C461,185.2 464,185.6 466.2,186.7 C468,182.5 472.5,180 477.8,180.3 C483,180 487,182.5 488.6,186.5 C490,189 490.4,192 490,194.4 C494,197 496.5,201 497.2,206 C498.6,209 498.6,212 497.7,214.9 C497.6,220 495.5,224 491.9,226.5 C489,229.5 484.5,230.8 480.3,230.3 C477.5,231 474,231 471.4,230.3 C469.5,232 467,233 464.9,233.6 C462.5,234.6 459.5,235.2 457.2,235.5 C455.5,237.5 454.5,239.6 454,241.9 C453.3,243 452.6,244.2 452.1,245.1 C447,247.5 442,246.5 438,243.8 Z" fill="#d2e6e0" opacity=".93"/>
<path d="M436.5,238 C433,232 433.2,225 436.2,219.5 C436.5,211 443,204.5 451,204 C456,202.5 461,203.2 465,206 C467.5,200 474.5,198.5 479,202 C482.5,205 483,209.5 481.5,213 C486,215.5 488,221 486.5,226 C485,231.5 479.5,235 474,233.5 C470,237 463,238 458,236" fill="none" stroke="#e6f2ef" stroke-width=".9" opacity=".9"/>
<polygon points="456.8,146.7 518.4,115.1 585.2,147.6 525.3,187.5" fill="#e1ebe0" />
<polygon points="474.0,144.7 507.3,162.1 507.3,165.6 474.0,147.9" fill="#dfe3e3" />
<polygon points="507.3,162.1 552.7,152.7 568.1,143.7 568.1,146.7 539.8,163.8 507.3,165.6" fill="#eceeee" />
<polygon points="475.3,124.1 490.2,110.5 506.5,141.6 507.3,162.5 475.3,145.4" fill="#a8b3b6" />
<polygon points="506.5,141.6 520.2,131.3 534.7,141.6 534.7,155.3 507.3,162.5" fill="#d9dde0" />
<polygon points="506.5,141.6 520.2,131.3 520.2,155.3 507.3,162.5" fill="#cdd3d6" />
<polygon points="534.7,141.6 549.2,110.5 565.0,122.8 566.4,143.7 539.8,160.4 534.7,155.3" fill="#e0e3e5" />
<polygon points="490.2,109.4 519.3,91.6 520.5,131.7 506.5,141.9" fill="#3b566f" />
<polygon points="519.3,91.6 549.6,109.4 535.0,141.9 520.5,131.7" fill="#566574" />
<polyline points="474.0,124.8 490.2,109.8 506.8,141.9" fill="none" stroke="#3b4c60" stroke-width="1.1" stroke-linejoin="miter"/>
<polyline points="534.7,141.9 549.6,109.8 565.8,122.8" fill="none" stroke="#3b4c60" stroke-width="1.1"/>
<polygon points="485.1,117.3 492.8,121.4 492.8,132.2 485.1,127.9" fill="#f4f5f6" />
<polygon points="486.3,119.4 491.6,122.3 491.6,130.7 486.3,127.6" fill="#4d586b" />
<line x1="488.9" y1="120.8" x2="488.9" y2="129.1" stroke="#dfe3e6" stroke-width=".7"/>
<polygon points="479.1,131.3 486.8,135.4 486.8,147.1 479.1,143.0" fill="#f4f5f6" />
<polygon points="480.3,133.4 485.6,136.3 485.6,145.5 480.3,142.6" fill="#4d586b" />
<line x1="482.9" y1="134.8" x2="482.9" y2="144.1" stroke="#dfe3e6" stroke-width=".7"/>
<polygon points="492.4,138.5 501.0,143.0 501.0,154.4 492.4,150.2" fill="#f4f5f6" />
<polygon points="493.6,140.6 499.8,143.8 499.8,152.9 493.6,149.8" fill="#4d586b" />
<line x1="496.7" y1="142.2" x2="496.7" y2="151.4" stroke="#dfe3e6" stroke-width=".7"/>
<polygon points="511.1,142.5 516.7,140.2 516.7,151.9 511.1,154.6" fill="#f4f5f6" />
<polygon points="512.6,143.7 515.4,142.6 515.4,151.2 512.6,152.6" fill="#4d586b" />
<polygon points="521.9,139.0 530.4,143.7 530.4,153.9 521.9,149.8" fill="#f4f5f6" />
<polygon points="523.2,141.1 529.1,144.3 529.1,152.2 523.2,149.1" fill="#4d586b" />
<line x1="526.1" y1="142.7" x2="526.1" y2="150.7" stroke="#dfe3e6" stroke-width=".7"/>
<polygon points="542.4,141.9 550.1,137.8 550.1,149.3 542.4,153.6" fill="#f4f5f6" />
<polygon points="543.8,143.0 548.9,140.2 548.9,148.4 543.8,151.5" fill="#4d586b" />
<line x1="546.3" y1="141.6" x2="546.3" y2="150.0" stroke="#dfe3e6" stroke-width=".7"/>
<polygon points="550.1,119.7 554.7,117.6 554.7,129.6 550.1,131.3" fill="#f4f5f6" />
<polygon points="551.1,120.7 553.7,119.5 553.7,128.6 551.1,129.8" fill="#4d586b" />
<polygon points="551.8,135.6 559.5,132.2 559.5,150.5 551.8,151.9" fill="#f4f5f6" />
<polygon points="553.2,136.8 558.5,134.4 558.5,149.8 553.2,150.5" fill="#4d586b" />
<polygon points="552.3,151.5 560.4,148.4 566.7,153.9 558.7,159.1" fill="#eff0f1" />
<polyline points="553.7,153.6 561.2,149.5" fill="none" stroke="#c9cdd0" stroke-width=".7"/>
<polyline points="555.4,155.1 562.9,151.0" fill="none" stroke="#c9cdd0" stroke-width=".7"/>
<polyline points="557.1,156.7 564.6,152.6" fill="none" stroke="#c9cdd0" stroke-width=".7"/>
<ellipse cx="513.3" cy="161.8" rx="2.6" ry="2.3" fill="#79b536" />
<ellipse cx="512.7" cy="161.2" rx="1.5" ry="1.3" fill="#93c94f" />
<ellipse cx="520.5" cy="157.9" rx="2.6" ry="2.3" fill="#79b536" />
<ellipse cx="519.9" cy="157.3" rx="1.5" ry="1.3" fill="#93c94f" />
<ellipse cx="525.6" cy="160.8" rx="3.4" ry="3.1" fill="#79b536" />
<ellipse cx="525.0" cy="160.2" rx="2.1" ry="1.7" fill="#93c94f" />
<rect x="567.2" y="136.4" width="1.7" height="6" fill="#d9531e"/>
<path d="M568.1,118.5 C566.8,124.0 562.9,129.3 562.9,134.2 C562.9,138.6 566.0,138.8 568.1,138.2 C570.1,138.8 573.2,138.6 573.2,134.2 C573.2,129.3 569.4,124.0 568.1,118.5 Z" fill="#6aa92f"/>
<path d="M568.1,118.5 C566.8,124.0 562.9,129.3 562.9,134.2 C562.9,138.6 566.0,138.8 567.8,138.2 C569.9,133.3 568.8,125.4 568.1,118.5 Z" fill="#97cc52"/>
<rect x="533.0" y="167.2" width="1.7" height="6" fill="#d9531e"/>
<path d="M533.8,142.5 C532.3,149.9 527.5,157.0 527.5,163.7 C527.5,169.5 531.3,169.8 533.8,169.0 C536.4,169.8 540.2,169.5 540.2,163.7 C540.2,157.0 535.4,149.9 533.8,142.5 Z" fill="#6aa92f"/>
<path d="M533.8,142.5 C532.3,149.9 527.5,157.0 527.5,163.7 C527.5,169.5 531.3,169.8 533.5,169.0 C536.1,162.3 534.8,151.7 533.8,142.5 Z" fill="#97cc52"/>
<polygon points="698.4,156.4 739.5,179.4 739.5,183.4 698.4,160.0" fill="#c43b26" />
<polygon points="739.5,179.4 780.2,156.4 780.2,160.0 739.5,183.4" fill="#dd5f1b" />
<polygon points="700.0,100.9 739.5,122.9 739.5,179.8 700.0,157.2" fill="#aab5b5" />
<polygon points="739.5,122.9 778.8,100.9 778.8,157.2 739.5,179.8" fill="#e3e5e5" />
<polygon points="739.3,77.6 700.0,100.9 739.5,123.3 778.8,100.9" fill="#f2f3f3" />
<polygon points="707.0,101.0 739.0,82.5 771.4,101.0 739.5,119.5" fill="#9aa6a8" />
<polygon points="707.0,101.0 739.0,82.5 739.0,85.4 710.2,102.3" fill="#dd5f1b" />
<polygon points="739.0,82.5 771.4,101.0 768.2,102.3 739.0,85.4" fill="#c8402a" />
<path d="M732.5,88.0 v4.6 a9,5 0 0 0 18,0 v-4.6z" fill="#e1e3e3"/>
<path d="M732.5,88.0 v4.6 a9,5 0 0 0 9,5 v-4.6z" fill="#c5caca"/>
<ellipse cx="741.5" cy="88.0" rx="9.2" ry="5.2" fill="#e2bf2d" />
<ellipse cx="741.5" cy="88.0" rx="8.1" ry="4.4" fill="#f1f2f2" />
<ellipse cx="741.5" cy="88.0" rx="7.2" ry="3.8" fill="#5d6a75" />
<path d="M741.5,88.0 L748.3,89.3 A7.2,3.8 0 0 1 741.5,91.8 Z" fill="#eceeee"/>
<path d="M741.5,88.0 L736.0,90.4 A7.2,3.8 0 0 1 735.3,86.1 Z" fill="#eceeee"/>
<path d="M741.5,88.0 L740.3,84.2 A7.2,3.8 0 0 1 747.7,86.1 Z" fill="#eceeee"/>
<ellipse cx="741.5" cy="88.0" rx="1.6" ry="0.9" fill="#f6f6f6" />
<path d="M717.3,96.9 v4.6 a9,5 0 0 0 18,0 v-4.6z" fill="#e1e3e3"/>
<path d="M717.3,96.9 v4.6 a9,5 0 0 0 9,5 v-4.6z" fill="#c5caca"/>
<ellipse cx="726.3" cy="96.9" rx="9.2" ry="5.2" fill="#e2bf2d" />
<ellipse cx="726.3" cy="96.9" rx="8.1" ry="4.4" fill="#f1f2f2" />
<ellipse cx="726.3" cy="96.9" rx="7.2" ry="3.8" fill="#5d6a75" />
<path d="M726.3,96.9 L733.1,98.2 A7.2,3.8 0 0 1 726.3,100.7 Z" fill="#eceeee"/>
<path d="M726.3,96.9 L720.8,99.4 A7.2,3.8 0 0 1 720.1,95.0 Z" fill="#eceeee"/>
<path d="M726.3,96.9 L725.1,93.2 A7.2,3.8 0 0 1 732.6,95.0 Z" fill="#eceeee"/>
<ellipse cx="726.3" cy="96.9" rx="1.6" ry="0.9" fill="#f6f6f6" />
<path d="M747.9,96.9 v4.6 a9,5 0 0 0 18,0 v-4.6z" fill="#e1e3e3"/>
<path d="M747.9,96.9 v4.6 a9,5 0 0 0 9,5 v-4.6z" fill="#c5caca"/>
<ellipse cx="756.9" cy="96.9" rx="9.2" ry="5.2" fill="#e2bf2d" />
<ellipse cx="756.9" cy="96.9" rx="8.1" ry="4.4" fill="#f1f2f2" />
<ellipse cx="756.9" cy="96.9" rx="7.2" ry="3.8" fill="#5d6a75" />
<path d="M756.9,96.9 L763.6,98.2 A7.2,3.8 0 0 1 756.9,100.7 Z" fill="#eceeee"/>
<path d="M756.9,96.9 L751.4,99.4 A7.2,3.8 0 0 1 750.6,95.0 Z" fill="#eceeee"/>
<path d="M756.9,96.9 L755.6,93.2 A7.2,3.8 0 0 1 763.1,95.0 Z" fill="#eceeee"/>
<ellipse cx="756.9" cy="96.9" rx="1.6" ry="0.9" fill="#f6f6f6" />
<path d="M732.5,106.3 v4.6 a9,5 0 0 0 18,0 v-4.6z" fill="#e1e3e3"/>
<path d="M732.5,106.3 v4.6 a9,5 0 0 0 9,5 v-4.6z" fill="#c5caca"/>
<ellipse cx="741.5" cy="106.3" rx="9.2" ry="5.2" fill="#e2bf2d" />
<ellipse cx="741.5" cy="106.3" rx="8.1" ry="4.4" fill="#f1f2f2" />
<ellipse cx="741.5" cy="106.3" rx="7.2" ry="3.8" fill="#5d6a75" />
<path d="M741.5,106.3 L748.3,107.6 A7.2,3.8 0 0 1 741.5,110.1 Z" fill="#eceeee"/>
<path d="M741.5,106.3 L736.0,108.8 A7.2,3.8 0 0 1 735.3,104.4 Z" fill="#eceeee"/>
<path d="M741.5,106.3 L740.3,102.6 A7.2,3.8 0 0 1 747.7,104.4 Z" fill="#eceeee"/>
<ellipse cx="741.5" cy="106.3" rx="1.6" ry="0.9" fill="#f6f6f6" />
<polygon points="702.4,107.1 710.0,111.3 710.0,120.9 702.4,116.7" fill="#f1f2f2" />
<polygon points="703.3,108.7 705.9,110.2 705.9,112.4 703.3,110.9" fill="#4f5d72" />
<polygon points="703.3,111.3 705.9,112.8 705.9,115.0 703.3,113.5" fill="#4f5d72" />
<polygon points="703.3,113.9 705.9,115.4 705.9,117.6 703.3,116.1" fill="#4f5d72" />
<polygon points="706.4,110.4 709.1,111.9 709.1,114.1 706.4,112.6" fill="#4f5d72" />
<polygon points="706.4,113.0 709.1,114.5 709.1,116.7 706.4,115.2" fill="#4f5d72" />
<polygon points="706.4,115.7 709.1,117.1 709.1,119.3 706.4,117.8" fill="#4f5d72" />
<polygon points="711.9,112.3 725.9,120.1 725.9,129.7 711.9,121.9" fill="#f1f2f2" />
<polygon points="713.4,114.2 715.9,115.6 715.9,117.8 713.4,116.4" fill="#4f5d72" />
<polygon points="713.4,116.8 715.9,118.2 715.9,120.4 713.4,119.0" fill="#4f5d72" />
<polygon points="713.4,119.4 715.9,120.8 715.9,123.0 713.4,121.6" fill="#4f5d72" />
<polygon points="716.3,115.8 718.7,117.2 718.7,119.4 716.3,118.0" fill="#4f5d72" />
<polygon points="716.3,118.4 718.7,119.8 718.7,122.0 716.3,120.6" fill="#4f5d72" />
<polygon points="716.3,121.0 718.7,122.4 718.7,124.6 716.3,123.2" fill="#4f5d72" />
<polygon points="719.1,117.4 721.6,118.8 721.6,121.0 719.1,119.6" fill="#4f5d72" />
<polygon points="719.1,120.0 721.6,121.4 721.6,123.6 719.1,122.2" fill="#4f5d72" />
<polygon points="719.1,122.6 721.6,124.0 721.6,126.2 719.1,124.8" fill="#4f5d72" />
<polygon points="722.0,119.0 724.5,120.4 724.5,122.6 722.0,121.2" fill="#4f5d72" />
<polygon points="722.0,121.6 724.5,123.0 724.5,125.2 722.0,123.8" fill="#4f5d72" />
<polygon points="722.0,124.2 724.5,125.6 724.5,127.8 722.0,126.4" fill="#4f5d72" />
<polygon points="728.5,121.5 735.5,125.5 735.5,135.1 728.5,131.1" fill="#f1f2f2" />
<polygon points="729.3,123.0 731.8,124.5 731.8,126.7 729.3,125.2" fill="#4f5d72" />
<polygon points="729.3,125.7 731.8,127.1 731.8,129.3 729.3,127.9" fill="#4f5d72" />
<polygon points="729.3,128.3 731.8,129.7 731.8,131.9 729.3,130.5" fill="#4f5d72" />
<polygon points="732.2,124.7 734.7,126.1 734.7,128.3 732.2,126.9" fill="#4f5d72" />
<polygon points="732.2,127.3 734.7,128.7 734.7,130.9 732.2,129.5" fill="#4f5d72" />
<polygon points="732.2,129.9 734.7,131.3 734.7,133.5 732.2,132.1" fill="#4f5d72" />
<polygon points="745.5,125.9 752.3,122.1 752.3,131.7 745.5,135.5" fill="#f1f2f2" />
<polygon points="746.3,126.5 748.7,125.2 748.7,127.4 746.3,128.7" fill="#4f5d72" />
<polygon points="746.3,129.1 748.7,127.8 748.7,130.0 746.3,131.3" fill="#4f5d72" />
<polygon points="746.3,131.8 748.7,130.4 748.7,132.6 746.3,134.0" fill="#4f5d72" />
<polygon points="749.1,125.0 751.5,123.6 751.5,125.8 749.1,127.2" fill="#4f5d72" />
<polygon points="749.1,127.6 751.5,126.2 751.5,128.4 749.1,129.8" fill="#4f5d72" />
<polygon points="749.1,130.2 751.5,128.9 751.5,131.1 749.1,132.4" fill="#4f5d72" />
<polygon points="756.9,119.5 763.5,115.7 763.5,125.3 756.9,129.1" fill="#f1f2f2" />
<polygon points="757.7,120.1 760.0,118.8 760.0,121.0 757.7,122.3" fill="#4f5d72" />
<polygon points="757.7,122.8 760.0,121.4 760.0,123.6 757.7,124.9" fill="#4f5d72" />
<polygon points="757.7,125.4 760.0,124.0 760.0,126.2 757.7,127.6" fill="#4f5d72" />
<polygon points="760.4,118.6 762.7,117.2 762.7,119.4 760.4,120.8" fill="#4f5d72" />
<polygon points="760.4,121.2 762.7,119.9 762.7,122.0 760.4,123.4" fill="#4f5d72" />
<polygon points="760.4,123.8 762.7,122.5 762.7,124.7 760.4,126.0" fill="#4f5d72" />
<polygon points="767.5,113.5 773.8,109.9 773.8,119.5 767.5,123.1" fill="#f1f2f2" />
<polygon points="768.2,114.2 770.5,112.9 770.5,115.1 768.2,116.4" fill="#4f5d72" />
<polygon points="768.2,116.8 770.5,115.5 770.5,117.7 768.2,119.0" fill="#4f5d72" />
<polygon points="768.2,119.4 770.5,118.1 770.5,120.3 768.2,121.6" fill="#4f5d72" />
<polygon points="770.8,112.7 773.1,111.4 773.1,113.6 770.8,114.9" fill="#4f5d72" />
<polygon points="770.8,115.3 773.1,114.0 773.1,116.2 770.8,117.5" fill="#4f5d72" />
<polygon points="770.8,117.9 773.1,116.7 773.1,118.9 770.8,120.1" fill="#4f5d72" />
<polygon points="702.4,129.5 710.0,133.7 710.0,143.3 702.4,139.1" fill="#f1f2f2" />
<polygon points="703.3,131.1 705.9,132.5 705.9,134.7 703.3,133.3" fill="#4f5d72" />
<polygon points="703.3,133.7 705.9,135.2 705.9,137.4 703.3,135.9" fill="#4f5d72" />
<polygon points="703.3,136.3 705.9,137.8 705.9,140.0 703.3,138.5" fill="#4f5d72" />
<polygon points="706.4,132.8 709.1,134.3 709.1,136.5 706.4,135.0" fill="#4f5d72" />
<polygon points="706.4,135.4 709.1,136.9 709.1,139.1 706.4,137.6" fill="#4f5d72" />
<polygon points="706.4,138.0 709.1,139.5 709.1,141.7 706.4,140.2" fill="#4f5d72" />
<polygon points="711.9,134.7 725.9,142.5 725.9,152.1 711.9,144.3" fill="#f1f2f2" />
<polygon points="713.4,136.6 715.9,137.9 715.9,140.1 713.4,138.8" fill="#4f5d72" />
<polygon points="713.4,139.2 715.9,140.6 715.9,142.8 713.4,141.4" fill="#4f5d72" />
<polygon points="713.4,141.8 715.9,143.2 715.9,145.4 713.4,144.0" fill="#4f5d72" />
<polygon points="716.3,138.2 718.7,139.5 718.7,141.7 716.3,140.4" fill="#4f5d72" />
<polygon points="716.3,140.8 718.7,142.2 718.7,144.4 716.3,143.0" fill="#4f5d72" />
<polygon points="716.3,143.4 718.7,144.8 718.7,147.0 716.3,145.6" fill="#4f5d72" />
<polygon points="719.1,139.8 721.6,141.1 721.6,143.3 719.1,142.0" fill="#4f5d72" />
<polygon points="719.1,142.4 721.6,143.8 721.6,146.0 719.1,144.6" fill="#4f5d72" />
<polygon points="719.1,145.0 721.6,146.4 721.6,148.6 719.1,147.2" fill="#4f5d72" />
<polygon points="722.0,141.4 724.5,142.7 724.5,144.9 722.0,143.6" fill="#4f5d72" />
<polygon points="722.0,144.0 724.5,145.4 724.5,147.5 722.0,146.2" fill="#4f5d72" />
<polygon points="722.0,146.6 724.5,148.0 724.5,150.2 722.0,148.8" fill="#4f5d72" />
<polygon points="728.5,143.9 735.5,147.9 735.5,157.4 728.5,153.5" fill="#f1f2f2" />
<polygon points="729.3,145.4 731.8,146.8 731.8,149.0 729.3,147.6" fill="#4f5d72" />
<polygon points="729.3,148.0 731.8,149.4 731.8,151.6 729.3,150.2" fill="#4f5d72" />
<polygon points="729.3,150.7 731.8,152.1 731.8,154.3 729.3,152.8" fill="#4f5d72" />
<polygon points="732.2,147.0 734.7,148.5 734.7,150.7 732.2,149.2" fill="#4f5d72" />
<polygon points="732.2,149.7 734.7,151.1 734.7,153.3 732.2,151.9" fill="#4f5d72" />
<polygon points="732.2,152.3 734.7,153.7 734.7,155.9 732.2,154.5" fill="#4f5d72" />
<polygon points="745.5,148.3 752.3,144.5 752.3,154.0 745.5,157.8" fill="#f1f2f2" />
<polygon points="746.3,148.9 748.7,147.5 748.7,149.7 746.3,151.1" fill="#4f5d72" />
<polygon points="746.3,151.5 748.7,150.2 748.7,152.4 746.3,153.7" fill="#4f5d72" />
<polygon points="746.3,154.1 748.7,152.8 748.7,155.0 746.3,156.3" fill="#4f5d72" />
<polygon points="749.1,147.3 751.5,146.0 751.5,148.2 749.1,149.5" fill="#4f5d72" />
<polygon points="749.1,149.9 751.5,148.6 751.5,150.8 749.1,152.1" fill="#4f5d72" />
<polygon points="749.1,152.6 751.5,151.2 751.5,153.4 749.1,154.8" fill="#4f5d72" />
<polygon points="756.9,141.9 763.5,138.1 763.5,147.7 756.9,151.5" fill="#f1f2f2" />
<polygon points="757.7,142.5 760.0,141.2 760.0,143.3 757.7,144.7" fill="#4f5d72" />
<polygon points="757.7,145.1 760.0,143.8 760.0,146.0 757.7,147.3" fill="#4f5d72" />
<polygon points="757.7,147.7 760.0,146.4 760.0,148.6 757.7,149.9" fill="#4f5d72" />
<polygon points="760.4,140.9 762.7,139.6 762.7,141.8 760.4,143.1" fill="#4f5d72" />
<polygon points="760.4,143.6 762.7,142.2 762.7,144.4 760.4,145.8" fill="#4f5d72" />
<polygon points="760.4,146.2 762.7,144.8 762.7,147.0 760.4,148.4" fill="#4f5d72" />
<polygon points="767.5,135.9 773.8,132.3 773.8,141.9 767.5,145.5" fill="#f1f2f2" />
<polygon points="768.2,136.5 770.5,135.3 770.5,137.5 768.2,138.7" fill="#4f5d72" />
<polygon points="768.2,139.1 770.5,137.9 770.5,140.1 768.2,141.3" fill="#4f5d72" />
<polygon points="768.2,141.8 770.5,140.5 770.5,142.7 768.2,144.0" fill="#4f5d72" />
<polygon points="770.8,135.1 773.1,133.8 773.1,136.0 770.8,137.3" fill="#4f5d72" />
<polygon points="770.8,137.7 773.1,136.4 773.1,138.6 770.8,139.9" fill="#4f5d72" />
<polygon points="770.8,140.3 773.1,139.0 773.1,141.2 770.8,142.5" fill="#4f5d72" />
<path d="M993.40,445.00 L666.68,620.43 A30.00,30.00 0 0 1 638.16,620.36 L426.23,505.22 A15.10,15.10 0 0 1 426.68,478.44 L470.75,456.38" fill="none" stroke="#1470bf" stroke-width="5.7" stroke-linecap="round" stroke-linejoin="round"/>
<polygon points="477.9,452.8 465.3,449.1 458.9,452.5 467.2,455.8 470.0,460.4 467.4,468.8 473.8,465.2" fill="#1470bf" />
<path d="M493.40,468.50 L475.63,478.27 A12.80,12.80 0 0 0 475.64,500.71 L629.83,585.26 A36.00,36.00 0 0 0 663.45,585.78 L701.52,566.43" fill="none" stroke="#b8372a" stroke-width="5.7" stroke-linecap="round" stroke-linejoin="round"/>
<polygon points="708.6,562.8 696.0,559.1 689.6,562.5 698.0,565.8 700.8,570.4 698.1,578.8 704.5,575.2" fill="#b8372a" />
<polygon points="510.4,341.0 525.7,334.7 586.4,336.3 623.6,338.5 628.2,341.9 628.5,445.6 620.3,448.4 567.8,449.5 510.9,442.9" fill="#e2dde8" />
<polygon points="510.4,341.0 525.7,334.7 586.4,336.3 623.6,338.5 628.2,341.9 611.6,346.2 526.2,346.2 515.3,341.8" fill="#ece9f0" />
<polygon points="526.2,335.8 543.7,335.2 543.7,341.8 526.2,342.3" fill="#d9d6dc" />
<polygon points="510.4,341.0 515.9,341.9 515.9,441.2 510.9,442.9" fill="#d6cfdd" />
<polygon points="515.9,341.9 526.2,346.2 525.7,439.6 515.9,441.2" fill="#e5e1ea" />
<polygon points="526.2,346.2 611.6,346.2 611.6,444.5 525.7,439.6" fill="#eeebf2" />
<polygon points="526.2,347.8 574.4,347.8 574.4,379.5 526.2,379.5" fill="#ffffff" />
<polygon points="526.2,347.8 532.8,344.5 580.9,345.1 574.4,347.8" fill="#f6f5f8" />
<polygon points="574.4,347.8 580.9,345.1 585.3,347.8 585.3,379.0 574.4,379.5" fill="#ddd6e3" />
<polyline points="545.9,334.7 545.9,346.7" fill="none" stroke="#c5bfcc" stroke-width="0.5" opacity="1"/>
<polyline points="561.2,335.2 561.2,347.8" fill="none" stroke="#c5bfcc" stroke-width="0.5" opacity="1"/>
<polyline points="566.2,335.6 566.2,347.8" fill="none" stroke="#c5bfcc" stroke-width="0.5" opacity="1"/>
<ellipse cx="554.7" cy="338.0" rx="4.5" ry="1.2" fill="#f7f6f9" stroke="#bdb7c5" stroke-width=".4"/>
<polyline points="515.3,341.8 526.2,340.4 611.6,342.3 628.2,341.9" fill="none" stroke="#cfc9d6" stroke-width="0.5" opacity="1"/>
<polyline points="526.2,346.2 586.4,346.9 611.6,346.2" fill="none" stroke="#d5d0dc" stroke-width="0.5" opacity="1"/>
<polygon points="611.6,346.2 623.6,341.2 623.6,445.6 611.6,447.3" fill="#dcd5e3" />
<polygon points="623.6,341.2 628.2,341.9 628.5,445.6 623.6,445.6" fill="#d6cfde" />
<polygon points="523.0,380.0 596.2,382.2 619.2,381.1 619.2,383.3 601.7,388.7 565.6,387.7 523.5,384.4" fill="#efedf2" />
<polyline points="523.5,381.3 565.6,385.2 596.2,385.7" fill="none" stroke="#bdb7c5" stroke-width="0.5" opacity="1"/>
<polyline points="523.5,384.4 565.6,389.0" fill="none" stroke="#c9c3d0" stroke-width="0.5" opacity="1"/>
<polygon points="512.0,441.5 515.9,439.9 570.0,445.4 620.3,446.9 628.2,444.5 628.5,445.6 620.3,448.7 567.8,450.0 510.9,443.2" fill="#8b8990" />
<polygon points="514.2,441.5 526.2,439.6 570.0,445.2 570.0,448.5 516.4,444.3" fill="#4f4f56" />
<polygon points="525.7,384.4 566.7,386.8 566.7,434.1 526.2,432.5" fill="#fefefe" />
<polygon points="526.2,432.5 566.7,434.1 571.1,435.2 571.1,444.5 531.2,441.2 530.6,433.6" fill="#f4f3f6" />
<polygon points="566.7,386.8 595.2,388.7 595.2,439.1 567.3,438.5" fill="#ffffff" />
<polygon points="567.3,438.5 595.2,439.1 595.2,448.0 571.1,447.3 571.1,439.6" fill="#f3f2f5" />
<polyline points="566.4,386.8 566.9,434.7" fill="none" stroke="#a9a3b2" stroke-width="0.6" opacity="1"/>
<polyline points="526.2,432.5 566.7,434.4" fill="none" stroke="#c3bdca" stroke-width="0.5" opacity="1"/>
<polyline points="567.3,438.5 595.2,439.2" fill="none" stroke="#c3bdca" stroke-width="0.5" opacity="1"/>
<polygon points="595.2,388.7 601.7,390.4 601.7,446.9 595.2,448.0" fill="#e7e4eb" />
<polygon points="601.7,386.6 612.7,384.4 612.7,444.5 601.7,446.9" fill="#c4b5c8" />
<polygon points="612.7,384.4 620.3,382.7 620.3,442.9 612.7,444.5" fill="#cdbfd2" />
<polygon points="620.3,382.7 623.6,382.2 623.6,445.6 620.3,445.6" fill="#e9e5ef" />
<polyline points="612.7,384.4 612.7,444.5" fill="none" stroke="#a598ab" stroke-width="0.5" opacity="1"/>
<polygon points="596.2,382.2 619.2,380.5 619.2,383.3 601.7,386.8 596.2,385.7" fill="#c9bbcd" />
<polygon points="593.0,347.8 605.0,347.8 608.3,362.0 607.2,379.5 590.8,379.5 589.7,362.0" fill="#e6e5ea" />
<polygon points="600.1,347.8 605.0,347.8 608.3,362.0 607.2,379.5 600.1,379.5" fill="#cbc8d2" />
<polygon points="593.5,347.8 596.8,347.8 595.2,379.5 591.3,379.5" fill="#f7f7f9" />
<ellipse cx="599.1" cy="362.0" rx="10.0" ry="1.3" fill="#dcdae1" stroke="#a9a5b3" stroke-width=".5"/>
<ellipse cx="599.1" cy="369.7" rx="10.0" ry="1.3" fill="#dcdae1" stroke="#a9a5b3" stroke-width=".5"/>
<ellipse cx="597.3" cy="379.0" rx="21.0" ry="3.2" fill="#f6f5f8" stroke="#cfcad6" stroke-width=".4"/>
<ellipse cx="599.0" cy="343.7" rx="12.5" ry="3.4" fill="#9da0b4" />
<ellipse cx="599.0" cy="342.6" rx="11.5" ry="3.0" fill="#c5c8d8" />
<polygon points="587.0,339.6 591.0,338.5 591.0,342.9 587.0,343.2" fill="#666a80" />
<path d="M590.8,324.3 V341.8 A8.5,2.6 0 0 0 607.7,341.8 V324.3 Z" fill="#3b3c4c"/>
<rect x="594.4" y="324.3" width="3.4" height="19.3" fill="#6a6d85"/>
<rect x="602.1" y="324.3" width="4.5" height="18.7" fill="#55506a"/>
<path d="M590.8,322.9 v2.4 a8.5,2.8 0 0 0 17.0,0 v-2.4z" fill="#8a90ac"/>
<ellipse cx="599.3" cy="322.7" rx="8.5" ry="2.8" fill="#b4b9cf" />
<ellipse cx="599.3" cy="322.4" rx="6.9" ry="1.9" fill="#c9cddd" />
<line x1="567.4" y1="420.7" x2="573.9" y2="418.7" stroke="#dedbe3" stroke-width="1.8" stroke-linecap="round"/>
<ellipse cx="565.4" cy="421.3" rx="3.4" ry="3.9" fill="#f5f4f7" stroke="#8f8a99" stroke-width=".7"/>
<path d="M565.4,417.6 l0,7.4 M562.6,422.6 l5.6,-2.6 M562.6,420.0 l5.6,2.6" stroke="#a5a0ae" stroke-width=".5"/>
<circle cx="565.4" cy="421.3" r="1" fill="#9a95a4"/>
<line x1="580.2" y1="424.0" x2="586.7" y2="422.0" stroke="#dedbe3" stroke-width="1.8" stroke-linecap="round"/>
<ellipse cx="578.2" cy="424.6" rx="3.4" ry="3.9" fill="#f5f4f7" stroke="#8f8a99" stroke-width=".7"/>
<path d="M578.2,420.9 l0,7.4 M575.4,425.9 l5.6,-2.6 M575.4,423.3 l5.6,2.6" stroke="#a5a0ae" stroke-width=".5"/>
<circle cx="578.2" cy="424.6" r="1" fill="#9a95a4"/>
<rect x="521.9" y="424.6" width="4.6" height="2.8" fill="#f7f6f9" stroke="#c2bcca" stroke-width=".4"/>
<rect x="605.0" y="433.6" width="6.6" height="2.8" fill="#f7f6f9" stroke="#c2bcca" stroke-width=".4"/>
<rect x="615.9" y="430.9" width="6.6" height="2.8" fill="#f7f6f9" stroke="#c2bcca" stroke-width=".4"/>
<polyline points="510.4,341.0 515.9,341.9 515.9,441.2" fill="none" stroke="#c9c3d1" stroke-width="0.5" opacity="1"/>
<polyline points="623.6,382.2 623.6,445.6" fill="none" stroke="#c9c3d1" stroke-width="0.5" opacity="1"/>
<polygon points="864.2,214.8 845.5,226.0 846.2,252.2 874.0,268.3 892.3,257.9 892.6,231.2" fill="#f1f0ee" />
<polygon points="846.8,230.0 864.2,219.5 864.2,239.5 874.0,245.0" fill="#9cc8dc" />
<polygon points="864.2,219.5 891.1,235.0 874.0,245.0 864.2,239.5" fill="#aad4e3" />
<polygon points="846.6,230.0 874.0,245.0 874.0,267.9 846.6,252.0" fill="#8aabc4" />
<polygon points="846.6,252.0 864.2,241.8 874.0,247.0 874.0,267.9" fill="#9ab5cc" />
<polygon points="874.0,245.0 891.7,235.0 891.7,257.7 874.0,267.9" fill="#848fa6" />
<polygon points="874.0,247.0 891.7,256.9 891.7,257.7 874.0,267.9" fill="#8f9bb3" opacity=".8"/>
<polyline points="874.0,245.0 874.0,267.9" fill="none" stroke="#dfe6ec" stroke-width=".5" opacity=".8"/>
<polygon points="715.7,316.5 753.1,338.2 753.1,341.3 715.7,319.5" fill="#8dbd43" />
<polygon points="753.1,338.2 775.3,324.6 775.3,327.6 753.1,341.3" fill="#a2cb50" />
<polygon points="717.4,265.7 734.0,255.3 771.0,275.7 753.1,286.4" fill="#e9eceb" opacity=".88"/>
<polygon points="717.4,265.7 753.1,286.4 753.1,338.7 716.5,317.5" fill="#b9c9c2" opacity=".93"/>
<polygon points="753.1,286.4 771.0,275.7 771.3,327.7 753.1,338.7" fill="#d6dcd7" opacity=".95"/>
<defs><linearGradient id="coilg" gradientUnits="userSpaceOnUse" x1="0" y1="270.7" x2="0" y2="322.7"><stop offset="0" stop-color="#e63a12"/><stop offset=".25" stop-color="#e1683a"/><stop offset=".5" stop-color="#cf9a80"/><stop offset=".7" stop-color="#a9a4a6"/><stop offset=".85" stop-color="#8bb6d4"/><stop offset="1" stop-color="#5fc8f7"/></linearGradient></defs>
<path d="M735.9,271.1 L748.5,275.2 L728.0,275.8 L748.5,282.4 L728.0,283.8 L748.5,290.1 L728.0,291.8 L748.5,297.8 L728.0,299.8 L748.5,306.1 L728.0,307.8 L748.5,313.8 L728.0,315.2 L748.2,320.6 L735.4,322.3" fill="none" stroke="url(#coilg)" stroke-width="3.3" stroke-linejoin="round" stroke-linecap="round"/>
<polygon points="717.4,265.7 753.1,286.4 753.1,338.7 716.5,317.5" fill="#b9c9c2" opacity=".18"/>
<line x1="717.0" y1="271.3" x2="674.6" y2="249.1" stroke="#b8372a" stroke-width="5.7" stroke-linecap="butt" />
<polygon points="666.6,244.9 679.2,241.2 685.6,244.6 677.2,247.9 674.5,252.5 677.1,260.9 670.7,257.3" fill="#b8372a" />
<path d="M834.9,258.2 L786.0,284.3" stroke="#1470bf" stroke-width="5.7" stroke-linecap="round" fill="none"/>
<polygon points="778.1,288.5 790.7,292.2 797.1,288.8 788.8,285.5 786.0,280.9 788.6,272.5 782.2,276.1" fill="#1470bf" />
<path d="M783.20,315.20 L795.07,308.85 A17.00,17.00 0 0 1 810.97,308.77 L952.81,382.94" fill="none" stroke="#1470bf" stroke-width="5.7" stroke-linecap="round" stroke-linejoin="round"/>
<polygon points="959.9,386.6 947.3,390.3 940.9,386.9 949.2,383.6 952.0,379.0 949.4,370.6 955.8,374.2" fill="#1470bf" />
<path d="M762.80,289.90 L776.63,296.64 A3.50,3.50 0 0 1 778.60,299.79 L778.60,340.73 A5.00,5.00 0 0 0 781.33,345.19 L934.70,423.22 A8.80,8.80 0 0 1 935.00,438.75 L810.20,508.50" fill="none" stroke="#b8372a" stroke-width="5.7" stroke-linecap="round" stroke-linejoin="round"/>
<path d="M711.0,521.5 V532.9 A45.0,24.0 0 0 0 801.0,532.9 V521.5 Z" fill="#566474"/>
<path d="M711.0,437.9 V521.5 A45.0,22.4 0 0 0 801.0,521.5 V437.9 Z" fill="#b8372a"/>
<ellipse cx="756.0" cy="437.9" rx="45.0" ry="25.4" fill="#c9561b"/>
<path d="M972.5,402.0 V412.9 A45.9,23.5 0 0 0 1064.3,412.9 V402.0 Z" fill="#566474"/>
<path d="M972.5,315.3 V402.0 A45.9,20.0 0 0 0 1064.3,402.0 V315.3 Z" fill="#1e1638"/>
<ellipse cx="1018.4" cy="315.3" rx="45.9" ry="25.8" fill="#1f7f8c"/>
<g opacity=".999">
<text x="758.7" y="480.4" font-size="16" font-weight="300" fill="#f8e9e5" text-anchor="middle"><tspan x="758.7" dy="0">高</tspan><tspan x="758.7" dy="16.2">温</tspan><tspan x="758.7" dy="16.2">熔</tspan><tspan x="758.7" dy="16.2">盐</tspan><tspan x="758.7" dy="16.2">罐</tspan></text>
<text x="1022.6" y="357.9" font-size="16" font-weight="300" fill="#ecebf1" text-anchor="middle"><tspan x="1022.6" dy="0">低</tspan><tspan x="1022.6" dy="16.2">温</tspan><tspan x="1022.6" dy="16.2">熔</tspan><tspan x="1022.6" dy="16.2">盐</tspan><tspan x="1022.6" dy="16.2">罐</tspan></text>
<text x="161.5" y="371.6" font-size="16.3" font-weight="300" fill="#2b2650" text-anchor="middle" >风电</text>
<text x="287.7" y="284.9" font-size="16.3" font-weight="300" fill="#2b2650" text-anchor="middle" >光伏</text>
<text x="397.0" y="344.7" font-size="16.3" font-weight="300" fill="#2b2650" text-anchor="middle" >火电</text>
<text x="258.4" y="416.3" font-size="16.3" font-weight="300" fill="#2b2650" text-anchor="middle" >水电</text>
<text x="863.4" y="285.0" font-size="16.3" font-weight="300" fill="#2b2650" text-anchor="middle" >水箱</text>
<text x="718.4" y="352.2" font-size="16.3" font-weight="300" fill="#2b2650" text-anchor="middle" >换热器</text>
<text x="574.0" y="174.4" font-size="16.3" font-weight="300" fill="#2b2650" text-anchor="middle" dominant-baseline="central" transform="rotate(-28.0 574.0 174.4)">居民用水</text>
<text x="647.5" y="192.3" font-size="16.3" font-weight="300" fill="#2b2650" text-anchor="middle" dominant-baseline="central" transform="rotate(-27.0 647.5 192.3)">工业蒸汽</text>
<text x="549.3" y="247.4" font-size="16.3" font-weight="300" fill="#2b2650" text-anchor="middle" dominant-baseline="central" transform="rotate(-27.0 549.3 247.4)">过热蒸汽</text>
<text x="450.0" y="367.3" font-size="16.3" font-weight="400" fill="#241f48" text-anchor="middle" dominant-baseline="central" transform="rotate(-26.8 450.0 367.3)">绿电调峰 | 火电消纳</text>
<text x="563.7" y="469.6" font-size="16.2" font-weight="500" fill="#1e1a3c" text-anchor="middle" stroke="#1e1a3c" stroke-width=".3"><tspan font-weight="700" stroke="none" font-size="16">QX</tspan>前线能源<tspan font-size="11" dy="-4.6" font-weight="400" stroke="none">®</tspan></text>
<text x="564.5" y="489.3" font-size="16.2" font-weight="500" fill="#1e1a3c" text-anchor="middle" stroke="#1e1a3c" stroke-width=".3">电极熔盐加热器</text>
</g>
</svg></body></html>
